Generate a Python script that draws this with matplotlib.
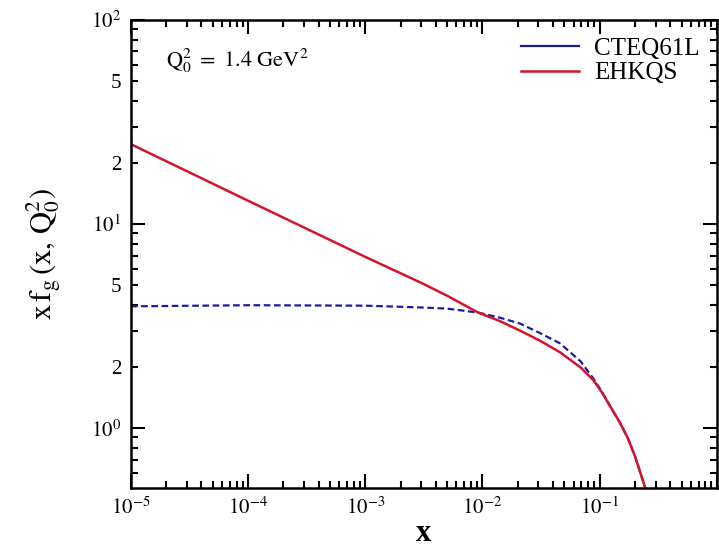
import matplotlib
matplotlib.use("Agg")
import matplotlib.pyplot as plt
from matplotlib.ticker import FixedLocator, FixedFormatter, NullFormatter

plt.rcParams['font.family'] = ['Liberation Serif', 'DejaVu Serif']
plt.rcParams['mathtext.fontset'] = 'stix'

# gluon distributions
x_vals = [1e-5, 1e-4, 1e-3, 3e-3, 5e-3, 9.2e-3, 1.4e-2, 2.1e-2, 3.1e-2, 4.6e-2,
          6.9e-2, 8.9e-2, 0.105, 0.124, 0.148, 0.173, 0.2, 0.233, 0.245]
cteq61l = [3.95, 4.0, 3.98, 3.9, 3.85, 3.68, 3.48, 3.25, 2.92, 2.6,
           2.12, 1.74, 1.5, 1.27, 1.07, 0.9, 0.73, 0.557, 0.51]
ehkqs = [24.6, 13.0, 6.9, 5.15, 4.45, 3.68, 3.35, 3.0, 2.68, 2.35,
         1.98, 1.71, 1.49, 1.27, 1.07, 0.9, 0.73, 0.557, 0.51]

x_major = [1e-5, 1e-4, 1e-3, 1e-2, 1e-1, 1.0]
x_labels = [r'$10^{-5}$', r'$10^{-4}$', r'$10^{-3}$', r'$10^{-2}$', r'$10^{-1}$', '']
y_major = [1.0, 10.0, 100.0]
y_major_labels = [r'$10^{0}$', r'$10^{1}$', r'$10^{2}$']
y_minor = [0.6, 0.7, 0.8, 0.9, 2, 3, 4, 5, 6, 7, 8, 9, 20, 30, 40, 50, 60, 70, 80, 90]
y_minor_labels = ['', '', '', '', '2', '', '', '5', '', '', '', '',
                  '2', '', '', '5', '', '', '', '']

fig = plt.figure(figsize=(7.19, 5.5), dpi=100)
ax = fig.add_axes([0.182, 0.113, 0.815, 0.851])

ax.plot(x_vals, cteq61l, color='#1c1c9c', lw=1.6, ls=(0, (3, 1.6)))
ax.plot(x_vals, ehkqs, color='#d4142c', lw=1.8)

# legend drawn with solid lines
ax.plot([], [], color='#1c1c9c', lw=1.6, label='CTEQ61L')
ax.plot([], [], color='#d4142c', lw=1.8, label='EHKQS')
handles, labels = ax.get_legend_handles_labels()
ax.legend(handles[-2:], labels[-2:], loc='upper right', frameon=False,
          fontsize=18, handlelength=2.3, handletextpad=0.6,
          labelspacing=0.08, borderaxespad=0.3)

ax.set_xscale('log')
ax.set_yscale('log')
ax.set_xlim(1e-5, 1.0)
ax.set_ylim(0.51, 100)

ax.xaxis.set_major_locator(FixedLocator(x_major))
ax.xaxis.set_major_formatter(FixedFormatter(x_labels))
ax.xaxis.set_minor_formatter(NullFormatter())
ax.yaxis.set_major_locator(FixedLocator(y_major))
ax.yaxis.set_major_formatter(FixedFormatter(y_major_labels))
ax.yaxis.set_minor_locator(FixedLocator(y_minor))
ax.yaxis.set_minor_formatter(FixedFormatter(y_minor_labels))

ax.tick_params(which='both', direction='in', top=True, right=True,
               labelsize=15, width=1.5, colors='black')
ax.tick_params(which='major', length=10, pad=7)
ax.tick_params(which='minor', length=5, pad=7)
for s in ax.spines.values():
    s.set_linewidth(1.8)

ax.text(0.06, 0.9, r'$\mathrm{Q_0^2\ =\ 1.4\ GeV^2}$', transform=ax.transAxes,
        fontsize=16)

ax.set_xlabel('x', fontsize=22, fontweight='bold', labelpad=0)
ax.set_ylabel(r'$\mathrm{x\,f_g\,(x,\,Q_0^2)}$', fontsize=22, labelpad=20)

fig.savefig('out.png', dpi=100)
